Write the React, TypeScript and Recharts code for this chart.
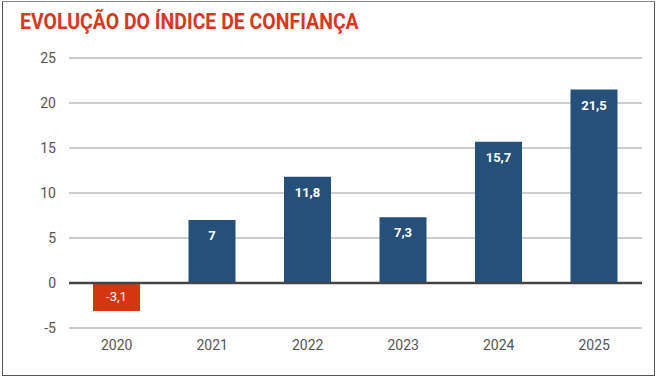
import React from 'react';
import { BarChart, Bar, XAxis, YAxis, CartesianGrid, ReferenceLine, Cell, LabelList } from 'recharts';

const years = ['2020', '2021', '2022', '2023', '2024', '2025'];
const values = [-3.1, 7, 11.8, 7.3, 15.7, 21.5];
const yTicks = [-5, 0, 5, 10, 15, 20, 25];
const title = 'EVOLUÇÃO DO ÍNDICE DE CONFIANÇA';

const data = years.map((y, i) => ({ year: y, value: values[i] }));

const BLUE = '#25507a';
const RED = '#d5350f';

const renderLabel = (props: any) => {
  const { x, y, width, height, value } = props;
  const top = Math.min(y, y + height);
  const cx = x + width / 2;
  return (
    <text
      x={cx}
      y={top + (value < 0 ? 13 : 15.5)}
      textAnchor="middle"
      dominantBaseline="central"
      fill="#ffffff"
      fontFamily="Roboto, sans-serif"
      fontWeight={value < 0 ? 400 : 700}
      fontSize={13}
    >
      {String(value).replace('.', ',')}
    </text>
  );
};

export default function App() {
  return (
    <div style={{ position: 'absolute', left: 0, top: 0, width: 660, height: 380, background: '#fff' }}>
      <div
        style={{
          position: 'absolute',
          left: 2,
          top: 1,
          width: 653,
          height: 375,
          border: '1.5px solid #555',
          borderTopColor: '#888',
          boxSizing: 'border-box',
        }}
      />
      <div
        style={{
          position: 'absolute',
          left: 20,
          top: 8,
          whiteSpace: 'nowrap',
          fontFamily: 'Roboto, sans-serif',
          fontWeight: 700,
          fontSize: 22,
          color: '#d9381e',
          transform: 'scaleX(0.885)',
          transformOrigin: 'left top',
          lineHeight: '28px',
        }}
      >
        {title}
      </div>
      <div style={{ position: 'absolute', left: 0, top: 0 }}>
        <BarChart
          width={660}
          height={380}
          data={data}
          margin={{ top: 58, right: 18, bottom: 22, left: 9 }}
          barCategoryGap="25%"
        >
          <CartesianGrid vertical={false} stroke="#bdbdbd" strokeWidth={1.5} />
          <XAxis
            dataKey="year"
            height={30}
            axisLine={false}
            tickLine={false}
            tickSize={0}
            tickMargin={12}
            tick={{ fill: '#555', fontSize: 14, fontFamily: 'Roboto, sans-serif' }}
          />
          <YAxis
            width={60}
            domain={[-5, 25]}
            ticks={yTicks}
            axisLine={false}
            tickLine={false}
            tickSize={0}
            tickMargin={13}
            interval={0}
            tick={{ fill: '#555', fontSize: 14, fontFamily: 'Roboto, sans-serif' }}
          />
          <Bar dataKey="value" isAnimationActive={false} barSize={47}>
            {data.map((d, i) => (
              <Cell key={i} fill={d.value < 0 ? RED : BLUE} />
            ))}
            <LabelList dataKey="value" content={renderLabel} />
          </Bar>
          <ReferenceLine y={0} stroke="#444" strokeWidth={2.5} />
        </BarChart>
      </div>
    </div>
  );
}
